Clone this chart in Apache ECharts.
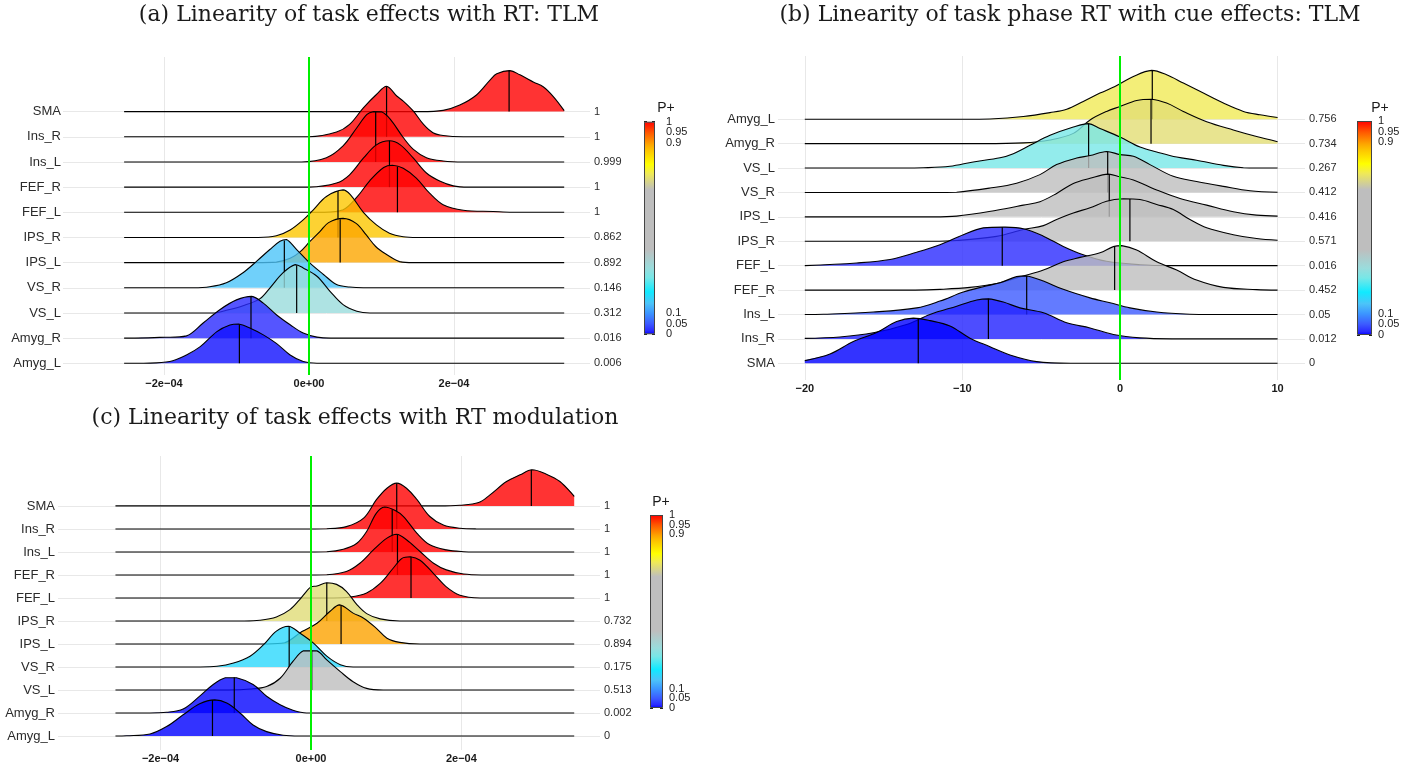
<!DOCTYPE html>
<html>
<head>
<meta charset="utf-8">
<title>Linearity ridgelines</title>
<script src="https://cdn.jsdelivr.net/npm/echarts@6.0.0/dist/echarts.min.js"></script>
<style>
  html, body { margin: 0; padding: 0; background: #fff; }
  #chart { width: 1419px; height: 769px; }
</style>
</head>
<body>
<div id="chart"></div>
<script>
// rows listed bottom -> top
const regionsAC = ['Amyg_L', 'Amyg_R', 'VS_L', 'VS_R', 'IPS_L', 'IPS_R', 'FEF_L', 'FEF_R', 'Ins_L', 'Ins_R', 'SMA']
const regionsB = ['SMA', 'Ins_R', 'Ins_L', 'FEF_R', 'FEF_L', 'IPS_R', 'IPS_L', 'VS_R', 'VS_L', 'Amyg_R', 'Amyg_L']

// P+ per row
const pA = ['0.006', '0.016', '0.312', '0.146', '0.892', '0.862', '1', '1', '0.999', '1', '1']
const pB = ['0', '0.012', '0.05', '0.452', '0.016', '0.571', '0.416', '0.412', '0.267', '0.734', '0.756']
const pC = ['0', '0.002', '0.513', '0.175', '0.894', '0.732', '1', '1', '1', '1', '1']

// x ticks (a and c in units of 1e-04)
const xTicksA = [-2, 0, 2]
const xTicksB = [-20, -10, 0, 10]
const xTicksC = [-2, 0, 2]
const cbarTicks = [0, 0.05, 0.1, 0.9, 0.95, 1]
const cbarLabelsOuter = [0, 0.1, 0.9, 1]
const cbarLabelsInner = [0.05, 0.95]

// x span of every density line
const rangeA = [-2.55, 3.52]
const rangeB = [-20, 10]
const rangeC = [-2.60, 3.50]

// density curves [x, height in rows]
const densA = [
  [[-2.28, 0], [-1.92, 0.07], [-1.69, 0.33], [-1.50, 0.66], [-1.27, 1.26], [-1.09, 1.52], [-0.97, 1.56], [-0.81, 1.39], [-0.63, 1.13], [-0.45, 0.79], [-0.26, 0.33], [-0.08, 0.07], [0.11, 0]],
  [[-2.40, 0], [-2.06, 0.03], [-1.69, 0.09], [-1.46, 0.60], [-1.23, 1.13], [-1.00, 1.52], [-0.79, 1.66], [-0.63, 1.39], [-0.45, 0.93], [-0.26, 0.53], [-0.08, 0.20], [0.11, 0.04], [0.30, 0]],
  [[-1.30, 0], [-1.16, 0.09], [-0.91, 0.29], [-0.68, 0.56], [-0.54, 0.99], [-0.36, 1.59], [-0.19, 1.92], [-0.08, 1.79], [0.11, 1.46], [0.29, 0.86], [0.47, 0.33], [0.66, 0.07], [0.84, 0]],
  [[-1.60, 0], [-1.37, 0.04], [-1.14, 0.20], [-0.91, 0.60], [-0.72, 1.06], [-0.54, 1.52], [-0.40, 1.85], [-0.31, 1.92], [-0.17, 1.52], [0.01, 0.99], [0.20, 0.53], [0.38, 0.13], [0.56, 0.03], [0.75, 0]],
  [[-0.75, 0], [-0.45, 0.02], [-0.26, 0.17], [-0.12, 0.44], [0.01, 0.83], [0.15, 1.23], [0.27, 1.59], [0.47, 1.76], [0.65, 1.56], [0.79, 1.10], [0.92, 0.64], [1.06, 0.34], [1.25, 0.04], [1.45, 0]],
  [[-0.70, 0], [-0.45, 0.07], [-0.26, 0.30], [-0.08, 0.70], [0.06, 1.10], [0.24, 1.63], [0.47, 1.89], [0.57, 1.70], [0.75, 1.00], [0.93, 0.50], [1.11, 0.17], [1.30, 0.03], [1.50, 0]],
  [[0.20, 0], [0.47, 0.10], [0.66, 0.60], [0.84, 1.26], [1.03, 1.78], [1.15, 1.87], [1.30, 1.75], [1.48, 1.36], [1.66, 0.77], [1.85, 0.30], [2.13, 0.08], [2.54, 0.03], [2.80, 0]],
  [[0.00, 0], [0.38, 0.16], [0.56, 0.49], [0.75, 1.15], [0.93, 1.68], [1.11, 1.84], [1.26, 1.68], [1.44, 1.15], [1.62, 0.56], [1.81, 0.23], [1.99, 0.05], [2.20, 0]],
  [[-0.10, 0], [0.24, 0.17], [0.47, 0.64], [0.66, 1.36], [0.80, 1.89], [0.89, 2.00], [1.00, 1.99], [1.12, 1.70], [1.30, 0.97], [1.44, 0.50], [1.62, 0.17], [1.85, 0.04], [2.13, 0]],
  [[0.00, 0], [0.38, 0.19], [0.56, 0.49], [0.75, 1.15], [0.93, 1.68], [1.07, 2.01], [1.21, 1.62], [1.30, 1.42], [1.44, 1.02], [1.58, 0.49], [1.71, 0.16], [1.85, 0.05], [2.13, 0]],
  [[1.53, 0], [1.85, 0.05], [2.08, 0.26], [2.31, 0.66], [2.50, 1.26], [2.59, 1.50], [2.77, 1.63], [2.91, 1.46], [3.10, 1.17], [3.23, 0.99], [3.37, 0.60], [3.52, 0.04]]
]
const densB = [
  [[-20, 0.11], [-18.40, 0.38], [-16.92, 0.89], [-15.44, 1.26], [-14.17, 1.71], [-13.11, 1.85], [-12.06, 1.75], [-10.79, 1.53], [-9.52, 1.03], [-8.25, 0.68], [-6.98, 0.34], [-5.29, 0.07], [-2.96, 0]],
  [[-20, 0.02], [-17.77, 0.08], [-15.65, 0.25], [-13.54, 0.59], [-12.06, 1.00], [-10.36, 1.34], [-9.09, 1.59], [-8.35, 1.64], [-7.40, 1.51], [-6.35, 1.27], [-4.86, 1.07], [-3.38, 0.66], [-1.90, 0.45], [-0.42, 0.18], [1.27, 0.04], [3.38, 0]],
  [[-20, 0], [-18.82, 0.01], [-15.65, 0.10], [-12.90, 0.27], [-11.42, 0.55], [-9.94, 0.92], [-8.67, 1.14], [-7.61, 1.30], [-6.56, 1.55], [-5.92, 1.58], [-4.86, 1.37], [-3.60, 1.03], [-1.90, 0.68], [-0.63, 0.48], [0.63, 0.27], [2.33, 0.10], [4.44, 0.01], [6.00, 0]],
  [[-13.00, 0], [-11.42, 0.03], [-9.52, 0.11], [-7.83, 0.27], [-6.13, 0.58], [-4.86, 0.82], [-3.60, 1.16], [-2.54, 1.34], [-1.27, 1.53], [-0.42, 1.78], [0.11, 1.82], [1.06, 1.64], [2.33, 1.16], [3.60, 0.82], [4.86, 0.41], [6.56, 0.11], [8.67, 0.02], [10, 0]],
  [[-20, 0], [-16.71, 0.11], [-14.59, 0.25], [-12.90, 0.55], [-11.42, 0.86], [-9.94, 1.27], [-8.67, 1.55], [-7.40, 1.58], [-6.13, 1.51], [-4.86, 1.21], [-3.60, 0.79], [-2.33, 0.45], [-0.85, 0.18], [1.27, 0.04], [3.38, 0]],
  [[-12.00, 0], [-10.37, 0.03], [-7.83, 0.20], [-6.13, 0.48], [-4.86, 0.64], [-4.02, 0.89], [-2.96, 1.16], [-1.90, 1.37], [-0.85, 1.64], [0.21, 1.74], [1.27, 1.71], [2.33, 1.51], [3.38, 1.30], [4.44, 0.89], [5.50, 0.55], [7.19, 0.27], [8.67, 0.11], [10, 0.04]],
  [[-12.00, 0], [-10.37, 0.03], [-7.83, 0.27], [-6.13, 0.48], [-5.08, 0.62], [-4.02, 0.96], [-2.96, 1.37], [-1.90, 1.58], [-0.74, 1.75], [0, 1.64], [0.85, 1.51], [2.33, 1.10], [3.81, 0.75], [5.50, 0.48], [7.19, 0.21], [8.67, 0.07], [10, 0.03]],
  [[-12.00, 0], [-10.37, 0.01], [-8.25, 0.18], [-6.56, 0.38], [-5.08, 0.73], [-4.02, 1.14], [-2.75, 1.41], [-1.90, 1.51], [-0.85, 1.68], [0, 1.55], [0.85, 1.48], [1.90, 1.14], [3.38, 0.66], [4.86, 0.45], [6.56, 0.25], [8.25, 0.07], [10, 0.01]],
  [[-14.00, 0], [-12.48, 0.01], [-10.79, 0.07], [-9.31, 0.25], [-7.61, 0.42], [-6.77, 0.59], [-5.71, 0.93], [-4.44, 1.34], [-2.96, 1.68], [-2.01, 1.82], [-1.27, 1.62], [0, 1.27], [1.27, 0.86], [2.33, 0.66], [3.60, 0.45], [4.86, 0.32], [6.56, 0.11], [7.83, 0.01], [9.00, 0]],
  [[-9.00, 0], [-6.13, 0.03], [-4.44, 0.15], [-2.96, 0.42], [-1.90, 0.97], [-0.85, 1.32], [0, 1.52], [1.06, 1.77], [2.01, 1.82], [2.96, 1.66], [4.02, 1.32], [5.50, 0.90], [7.19, 0.56], [8.67, 0.29], [10, 0.08]],
  [[-10.00, 0], [-8.25, 0.01], [-6.13, 0.11], [-4.44, 0.27], [-3.38, 0.41], [-2.33, 0.73], [-1.27, 1.07], [-0.32, 1.34], [0.85, 1.75], [2.01, 2.00], [2.96, 1.82], [4.02, 1.48], [5.29, 1.07], [6.56, 0.66], [7.83, 0.32], [8.88, 0.18], [10, 0.07]]
]
const densC = [
  [[-2.60, 0], [-2.45, 0.01], [-2.14, 0.09], [-1.92, 0.41], [-1.70, 0.92], [-1.48, 1.40], [-1.28, 1.57], [-1.12, 1.43], [-0.94, 0.99], [-0.77, 0.48], [-0.59, 0.19], [-0.37, 0.03], [-0.15, 0]],
  [[-2.20, 0], [-1.92, 0.03], [-1.70, 0.17], [-1.48, 0.73], [-1.30, 1.24], [-1.14, 1.53], [-0.99, 1.53], [-0.77, 1.24], [-0.59, 0.73], [-0.41, 0.36], [-0.24, 0.12], [-0.06, 0]],
  [[-1.10, 0], [-0.81, 0.04], [-0.59, 0.15], [-0.41, 0.51], [-0.24, 1.24], [-0.10, 1.70], [0.08, 1.70], [0.21, 1.31], [0.39, 0.80], [0.56, 0.36], [0.74, 0.07], [0.96, 0]],
  [[-1.50, 0], [-1.25, 0.03], [-1.03, 0.17], [-0.81, 0.47], [-0.63, 0.97], [-0.46, 1.56], [-0.30, 1.77], [-0.15, 1.48], [0.03, 1.05], [0.21, 0.47], [0.39, 0.10], [0.56, 0]],
  [[-0.60, 0], [-0.35, 0.05], [-0.12, 0.54], [0.08, 0.90], [0.25, 1.41], [0.38, 1.70], [0.56, 1.34], [0.70, 1.12], [0.87, 0.68], [1.01, 0.25], [1.18, 0.07], [1.45, 0]],
  [[-0.90, 0], [-0.68, 0.03], [-0.46, 0.17], [-0.28, 0.49], [-0.15, 0.93], [-0.06, 1.29], [0.00, 1.48], [0.08, 1.52], [0.21, 1.66], [0.34, 1.59], [0.47, 1.29], [0.61, 0.71], [0.74, 0.32], [0.92, 0.09], [1.18, 0]],
  [[0.30, 0], [0.52, 0.04], [0.74, 0.22], [0.92, 0.63], [1.09, 1.28], [1.21, 1.72], [1.32, 1.79], [1.45, 1.64], [1.63, 1.06], [1.80, 0.48], [1.98, 0.12], [2.25, 0]],
  [[-0.20, 0], [0.21, 0.01], [0.47, 0.15], [0.65, 0.51], [0.83, 1.09], [1.01, 1.60], [1.14, 1.77], [1.27, 1.53], [1.45, 1.02], [1.63, 0.51], [1.80, 0.22], [2.03, 0.04], [2.30, 0]],
  [[-0.20, 0], [0.21, 0.01], [0.43, 0.12], [0.61, 0.38], [0.74, 0.89], [0.87, 1.69], [0.98, 1.95], [1.12, 1.80], [1.23, 1.54], [1.41, 0.81], [1.58, 0.31], [1.80, 0.09], [2.03, 0.01], [2.20, 0]],
  [[-0.20, 0], [0.21, 0.01], [0.47, 0.10], [0.70, 0.47], [0.87, 1.27], [1.01, 1.77], [1.14, 1.99], [1.27, 1.77], [1.41, 1.27], [1.58, 0.54], [1.76, 0.17], [1.98, 0.03], [2.20, 0]],
  [[1.70, 0], [1.98, 0.03], [2.23, 0.15], [2.38, 0.48], [2.60, 1.06], [2.78, 1.35], [2.94, 1.57], [3.13, 1.38], [3.31, 1.06], [3.50, 0.41]]
]

// medians (x) and curve height at the median
const medA = [-0.96, -0.80, -0.17, -0.34, 0.43, 0.40, 1.22, 1.11, 0.92, 1.07, 2.76]
const medHA = [1.55, 1.64, 1.90, 1.88, 1.72, 1.85, 1.82, 1.84, 2.00, 2.01, 1.63]
const medB = [-12.80, -8.35, -5.92, -0.34, -7.47, 0.63, -0.68, -0.78, -1.99, 1.97, 2.05]
const medHB = [1.83, 1.64, 1.58, 1.78, 1.58, 1.73, 1.75, 1.68, 1.82, 1.82, 2.00]
const medC = [-1.31, -1.02, 0.01, -0.29, 0.40, 0.21, 1.33, 1.15, 1.08, 1.14, 2.93]
const medHC = [1.56, 1.55, 1.72, 1.75, 1.68, 1.66, 1.79, 1.76, 1.85, 1.99, 1.57]

// P+ colour scale
const pStops = [0, 0.016, 0.05, 0.1, 0.146, 0.2, 0.267, 0.312, 0.4, 0.68, 0.756, 0.8, 0.862, 0.892, 0.95, 1]
const pColors = ['#0000ff', '#2a2aff', '#3c5aff', '#3c96ff', '#4cc4f9', '#10eaff', '#78e7e7', '#9adcdc', '#bebebe', '#bebebe', '#f0ea56', '#ffff00', '#fdc700', '#fda600', '#ff5500', '#ff0000']

const FONT = 'Liberation Sans'
const rows = regionsAC.map((r, i) => i)

function hexRgb (h) {
  return [parseInt(h.slice(1, 3), 16), parseInt(h.slice(3, 5), 16), parseInt(h.slice(5, 7), 16)]
}
function pColor (p, alpha) {
  let i = 0
  while (i < pStops.length - 2 && p > pStops[i + 1]) i++
  const t = (p - pStops[i]) / (pStops[i + 1] - pStops[i])
  const a = hexRgb(pColors[i])
  const b = hexRgb(pColors[i + 1])
  const c = a.map((v, j) => Math.round(v + (b[j] - v) * t))
  return 'rgba(' + c.join(',') + ',' + alpha + ')'
}

// smoothing control points are kept inside each curve's bounding box
const box = [[1e9, 1e9], [-1e9, -1e9]]

function ridgeRenderer (dens, medH, range, pvals) {
  return function (params, api) {
    const xm = api.value(0)
    const k = api.value(1)
    const pts = dens[k]
    const first = pts[0]
    const last = pts[pts.length - 1]
    const line = []
    if (first[0] > range[0]) line.push(api.coord([range[0], k]))
    pts.forEach(p => line.push(api.coord([p[0], k + p[1]])))
    if (last[0] < range[1]) line.push(api.coord([range[1], k]))
    const area = line.slice()
    if (first[1] > 0) area.unshift(api.coord([first[0], k]))
    if (last[1] > 0) area.push(api.coord([last[0], k]))
    const m0 = api.coord([xm, k])
    const m1 = api.coord([xm, k + medH[k]])
    return {
      type: 'group',
      children: [
        { type: 'polygon', shape: { points: area, smooth: 0.35, smoothConstraint: box }, style: { fill: pColor(+pvals[k], 0.8) } },
        { type: 'polyline', shape: { points: line, smooth: 0.35, smoothConstraint: box }, style: { stroke: '#000', lineWidth: 1.1, fill: null } },
        { type: 'line', shape: { x1: m0[0], y1: m0[1], x2: m1[0], y2: m1[1] }, style: { stroke: '#000', lineWidth: 1.2 } }
      ]
    }
  }
}

function sciLabel (v) {
  if (v === 0) return '0e+00'
  return (v < 0 ? '\u2212' : '') + Math.abs(v) + 'e\u221204'
}
function plainLabel (v) {
  return v < 0 ? '\u2212' + Math.abs(v) : String(v)
}

// panel geometry
const panels = [
  { grid: { left: 63, top: 57, width: 527, height: 318 }, xMin: -3.393, xMax: 3.876, yMin: -0.465, yMax: 12.17,
    names: regionsAC, pv: pA, dens: densA, med: medA, medH: medHA, range: rangeA, ticks: xTicksA, fmt: sciLabel, lblMargin: 2 },
  { grid: { left: 778, top: 56, width: 527, height: 324 }, xMin: -21.70, xMax: 11.74, yMin: -0.684, yMax: 12.59,
    names: regionsB, pv: pB, dens: densB, med: medB, medH: medHB, range: rangeB, ticks: xTicksB, fmt: plainLabel, lblMargin: 3 },
  { grid: { left: 58, top: 456, width: 542, height: 294 }, xMin: -3.364, xMax: 3.843, yMin: -0.609, yMax: 12.17,
    names: regionsAC, pv: pC, dens: densC, med: medC, medH: medHC, range: rangeC, ticks: xTicksC, fmt: sciLabel, lblMargin: 3 }
]
const cbars = [
  { grid: { left: 644, top: 121.7, width: 11, height: 212.6 }, margin: 11, title: [666, 108] },
  { grid: { left: 1357, top: 121, width: 15, height: 214 }, margin: 6, title: [1380, 108] },
  { grid: { left: 650, top: 515, width: 13, height: 193 }, margin: 6, title: [661, 502] }
]

const grids = []
const xAxes = []
const yAxes = []
const series = []

panels.forEach((pn, i) => {
  grids.push(pn.grid)
  xAxes.push({
    type: 'value', gridIndex: i, min: pn.xMin, max: pn.xMax,
    axisLine: { show: false },
    axisTick: { show: false, customValues: pn.ticks },
    splitLine: { show: true, lineStyle: { color: '#e8e8e8', width: 1 } },
    axisLabel: { customValues: pn.ticks, formatter: pn.fmt, fontFamily: FONT, fontWeight: 'bold', fontSize: 11, color: '#1a1a1a', margin: 3 }
  })
})
// 0-2: row names, 3-5: P+ values
panels.forEach((pn, i) => {
  yAxes.push({
    type: 'value', gridIndex: i, min: pn.yMin, max: pn.yMax,
    axisLine: { show: false },
    axisTick: { show: false, customValues: rows },
    splitLine: { show: true, lineStyle: { color: '#e8e8e8', width: 1 } },
    axisLabel: { customValues: rows, formatter: v => pn.names[Math.round(v)], fontFamily: FONT, fontSize: 13, color: '#2b2b2b', margin: pn.lblMargin, padding: [0, 0, 7, 0] }
  })
})
panels.forEach((pn, i) => {
  yAxes.push({
    type: 'value', gridIndex: i, min: pn.yMin, max: pn.yMax, position: 'right',
    axisLine: { show: false },
    axisTick: { show: false, customValues: rows },
    splitLine: { show: false },
    axisLabel: { customValues: rows, formatter: v => pn.pv[Math.round(v)], fontFamily: FONT, fontSize: 11, color: '#2b2b2b', margin: 4, padding: [0, 0, 7, 0] }
  })
})

const gradStops = pStops.map((o, i) => ({ offset: o, color: pColors[i] }))
cbars.forEach((cb, j) => {
  grids.push(cb.grid)
  xAxes.push({ type: 'category', gridIndex: 3 + j, data: ['P+'], show: false })
})
// 6-8: colour bar, outer labels + right ticks
cbars.forEach((cb, j) => {
  yAxes.push({
    type: 'value', gridIndex: 3 + j, min: 0, max: 1, position: 'right',
    axisLine: { show: false },
    splitLine: { show: false },
    axisTick: { show: true, inside: true, length: 3, customValues: cbarTicks, lineStyle: { color: '#222', width: 1 } },
    axisLabel: { customValues: cbarLabelsOuter, showMinLabel: true, showMaxLabel: true, fontFamily: FONT, fontSize: 11, color: '#222', margin: cb.margin, lineHeight: 9 }
  })
})
// 9-11: colour bar, left ticks
cbars.forEach((cb, j) => {
  yAxes.push({
    type: 'value', gridIndex: 3 + j, min: 0, max: 1, position: 'left',
    axisLine: { show: false },
    splitLine: { show: false },
    axisTick: { show: true, inside: true, length: 3, customValues: cbarTicks, lineStyle: { color: '#222', width: 1 } },
    axisLabel: { show: false }
  })
})
// 12-14: colour bar, inner labels
cbars.forEach((cb, j) => {
  yAxes.push({
    type: 'value', gridIndex: 3 + j, min: 0, max: 1, position: 'right',
    axisLine: { show: false },
    splitLine: { show: false },
    axisTick: { show: false, customValues: cbarLabelsInner },
    axisLabel: { customValues: cbarLabelsInner, fontFamily: FONT, fontSize: 11, color: '#222', margin: cb.margin, lineHeight: 9 }
  })
})

panels.forEach((pn, i) => {
  // top row first, so lower rows are painted over it
  const data = rows.map(k => [pn.med[k], k]).reverse()
  series.push({
    type: 'custom',
    xAxisIndex: i,
    yAxisIndex: i,
    clip: false,
    silent: true,
    renderItem: ridgeRenderer(pn.dens, pn.medH, pn.range, pn.pv),
    data: data,
    markLine: {
      silent: true,
      symbol: 'none',
      label: { show: false },
      lineStyle: { color: '#00f000', width: 2, type: 'solid' },
      data: [{ xAxis: 0 }]
    }
  })
})
cbars.forEach((cb, j) => {
  series.push({
    type: 'bar',
    xAxisIndex: 3 + j,
    yAxisIndex: 6 + j,
    data: [1],
    barWidth: '100%',
    silent: true,
    itemStyle: {
      color: new echarts.graphic.LinearGradient(0, 1, 0, 0, gradStops),
      borderColor: '#444',
      borderWidth: 1
    }
  })
})

const titles = [
  { text: '(a) Linearity of task effects with RT: TLM', x: 369, y: 15 },
  { text: '(b) Linearity of task phase RT with cue effects: TLM', x: 1070, y: 15 },
  { text: '(c) Linearity of task effects with RT modulation', x: 355, y: 418 }
]
const graphics = titles.map(t => ({
  type: 'text', x: t.x, y: t.y, silent: true,
  style: { text: t.text, fontFamily: 'DejaVu Serif', fontSize: 22, fill: '#1a1a1a', align: 'center', verticalAlign: 'middle' }
}))
cbars.forEach(cb => {
  graphics.push({
    type: 'text', x: cb.title[0], y: cb.title[1], silent: true,
    style: { text: 'P+', fontFamily: FONT, fontSize: 14, fill: '#1a1a1a', align: 'center', verticalAlign: 'middle' }
  })
})

const chart = echarts.init(document.getElementById('chart'))
chart.setOption({
  animation: false,
  backgroundColor: '#fff',
  textStyle: { fontFamily: FONT },
  grid: grids,
  xAxis: xAxes,
  yAxis: yAxes,
  series: series,
  graphic: graphics
})
</script>
</body>
</html>
